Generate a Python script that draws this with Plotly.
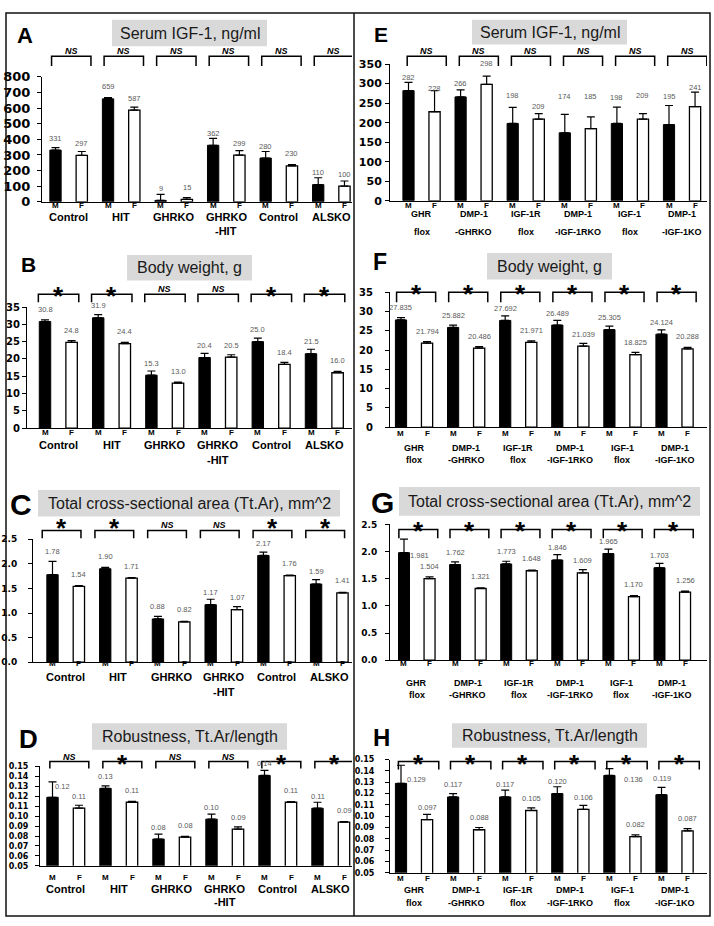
import plotly.graph_objects as go

W, H = 714, 926
FONT = "Liberation Sans, Arial, sans-serif"
TICKFONT = "DejaVu Sans, sans-serif"

# ---------------- data ----------------
LEFT_GROUPS = [["Control"], ["HIT"], ["GHRKO"], ["GHRKO", "-HIT"], ["Control"], ["ALSKO"]]
RIGHT_GROUPS = [["GHR", "flox"], ["DMP-1", "-GHRKO"], ["IGF-1R", "flox"],
                ["DMP-1", "-IGF-1RKO"], ["IGF-1", "flox"], ["DMP-1", "-IGF-1KO"]]
SEX = ["M", "F"]

A_M = [331, 659, 9, 362, 280, 110]
A_F = [297, 587, 15, 299, 230, 100]
A_M_ERR = [16, 8, 39, 44, 42, 44]
A_F_ERR = [25, 19, 12, 29, 8, 33]
A_SIG = ["NS", "NS", "NS", "NS", "NS", "NS"]

B_M = [30.8, 31.9, 15.3, 20.4, 25.0, 21.5]
B_F = [24.8, 24.4, 13.0, 20.5, 18.4, 16.0]
B_M_ERR = [0.5, 0.9, 1.2, 1.2, 1.0, 1.3]
B_F_ERR = [0.5, 0.4, 0.3, 0.7, 0.6, 0.4]
B_SIG = ["*", "*", "NS", "NS", "*", "*"]

C_M = [1.78, 1.90, 0.88, 1.17, 2.17, 1.59]
C_F = [1.54, 1.71, 0.82, 1.07, 1.76, 1.41]
C_M_ERR = [0.27, 0.03, 0.05, 0.11, 0.07, 0.09]
C_F_ERR = [0.02, 0.01, 0.01, 0.06, 0.01, 0.01]
C_SIG = ["*", "*", "NS", "NS", "*", "*"]

D_M = [0.119, 0.128, 0.077, 0.097, 0.141, 0.108]
D_F = [0.108, 0.114, 0.079, 0.087, 0.114, 0.094]
D_M_ERR = [0.0155, 0.0024, 0.005, 0.005, 0.005, 0.006]
D_F_ERR = [0.003, 0.001, 0.0007, 0.0023, 0.0006, 0.0005]
D_SIG = ["NS", "*", "NS", "NS", "*", "*"]

E_M = [282, 266, 198, 174, 198, 195]
E_F = [228, 298, 209, 185, 209, 241]
E_M_ERR = [21, 18, 41, 47, 42, 49]
E_F_ERR = [54, 21, 14, 30, 14, 37]
E_SIG = ["NS", "NS", "NS", "NS", "NS", "NS"]

F_M = [27.835, 25.882, 27.692, 26.489, 25.305, 24.124]
F_F = [21.794, 20.486, 21.971, 21.039, 18.825, 20.288]
F_M_ERR = [0.6, 0.6, 1.2, 1.2, 0.9, 1.1]
F_F_ERR = [0.4, 0.4, 0.4, 0.7, 0.6, 0.4]
F_SIG = ["*", "*", "*", "*", "*", "*"]

G_M = [1.981, 1.762, 1.773, 1.846, 1.965, 1.703]
G_F = [1.504, 1.321, 1.648, 1.609, 1.170, 1.256]
G_M_ERR = [0.25, 0.05, 0.05, 0.10, 0.08, 0.08]
G_F_ERR = [0.03, 0.01, 0.01, 0.06, 0.02, 0.015]
G_SIG = ["*", "*", "*", "*", "*", "*"]

H_M = [0.129, 0.117, 0.117, 0.120, 0.136, 0.119]
H_F = [0.097, 0.088, 0.105, 0.106, 0.082, 0.087]
H_M_ERR = [0.016, 0.003, 0.006, 0.006, 0.006, 0.0064]
H_F_ERR = [0.0046, 0.002, 0.0023, 0.0035, 0.0014, 0.002]
H_SIG = ["*", "*", "*", "*", "*", "*"]

# ---------------- layout / style spec per panel ----------------
panels = [
    dict(letter="A", title="Serum IGF-1, ng/ml", groups=LEFT_GROUPS, M=A_M, F=A_F, Me=A_M_ERR, Fe=A_F_ERR, sig=A_SIG,
         fmt="{:.0f}", ymin=0, ymax=800, dtick=100, tickformat="d", tick_size=13, standoff=4,
         ax_x=42, right=352, top=71, bottom=198, c0=55.5, slot=26.27,
         letter_xy=(25, 29), letter_size=22, tbox=(112, 267, 13, 40),
         br=(50, 60), brdx=(-0.15, 0.35), star_dy=-6, mf_y=202, cat_y=(213, 228), cat_size=11),
    dict(letter="B", title="Body weight, g", groups=LEFT_GROUPS, M=B_M, F=B_F, Me=B_M_ERR, Fe=B_F_ERR, sig=B_SIG,
         fmt="{:.1f}", ymin=0, ymax=35, dtick=5, tickformat="d", tick_size=10, standoff=0,
         ax_x=27, right=352, top=305, bottom=428, c0=45, slot=26.6,
         letter_xy=(28, 262), letter_size=21, tbox=(127, 252, 252, 278),
         br=(292, 300), brdx=(-0.25, 0.27), star_dy=-6, mf_y=433, cat_y=(445, 460), cat_size=11),
    dict(letter="C", title="Total cross-sectional area (Tt.Ar), mm^2", groups=LEFT_GROUPS, M=C_M, F=C_F, Me=C_M_ERR, Fe=C_F_ERR, sig=C_SIG,
         fmt="{:.2f}", ymin=0, ymax=2.5, dtick=0.5, tickformat=".1f", tick_size=9, standoff=9,
         ax_x=33, right=352, top=541, bottom=666, c0=52.5, slot=26.36,
         letter_xy=(21, 506), letter_size=30, tbox=(38, 340, 491, 518),
         br=(532, 540), brdx=(-0.39, 0.08), star_dy=-10, mf_y=667, cat_y=(681, 696), cat_size=11),
    dict(letter="D", title="Robustness, Tt.Ar/length", groups=LEFT_GROUPS, M=D_M, F=D_F, Me=D_M_ERR, Fe=D_F_ERR, sig=D_SIG,
         fmt="{:.2f}", ymin=0.05, ymax=0.15, dtick=0.01, tickformat=".2f", tick_size=8, standoff=5,
         ax_x=40, right=352, top=772, bottom=873, c0=52.5, slot=26.5,
         letter_xy=(28, 744), letter_size=26, tbox=(92, 287, 728, 755),
         br=(767, 774), brdx=(-0.1, 0.37), star_dy=-6, mf_y=885, cat_y=(897, 910), cat_size=11),
    dict(letter="E", title="Serum IGF-1, ng/ml", groups=RIGHT_GROUPS, M=E_M, F=E_F, Me=E_M_ERR, Fe=E_F_ERR, sig=E_SIG,
         fmt="{:.0f}", ymin=0, ymax=350, dtick=50, tickformat="d", tick_size=11, standoff=1,
         ax_x=390, right=707, top=58, bottom=197, c0=408.5, slot=26.05,
         letter_xy=(381, 28), letter_size=21, tbox=(472, 627, 13, 38),
         br=(50, 60), brdx=(-0.05, 0.45), star_dy=-6, mf_y=202, cat_y=(210, 229), cat_size=9),
    dict(letter="F", title="Body weight, g", groups=RIGHT_GROUPS, M=F_M, F=F_F, Me=F_M_ERR, Fe=F_F_ERR, sig=F_SIG,
         fmt="{:.3f}", ymin=0, ymax=35, dtick=5, tickformat="d", tick_size=10, standoff=10,
         ax_x=390, right=707, top=290, bottom=427, c0=401, slot=26.05,
         letter_xy=(380, 259), letter_size=23, tbox=(487, 612, 250, 277),
         br=(290, 300), brdx=(-0.17, 0.33), star_dy=-6, mf_y=434, cat_y=(448, 460), cat_size=9),
    dict(letter="G", title="Total cross-sectional area (Tt.Ar), mm^2", groups=RIGHT_GROUPS, M=G_M, F=G_F, Me=G_M_ERR, Fe=G_F_ERR, sig=G_SIG,
         fmt="{:.3f}", ymin=0, ymax=2.5, dtick=0.5, tickformat=".1f", tick_size=9, standoff=6,
         ax_x=390, right=707, top=526, bottom=664, c0=404, slot=25.55,
         letter_xy=(382, 504), letter_size=30, tbox=(399, 700, 488, 517),
         br=(531, 540), brdx=(-0.2, 0.32), star_dy=-6, mf_y=667, cat_y=(687, 699), cat_size=9),
    dict(letter="H", title="Robustness, Tt.Ar/length", groups=RIGHT_GROUPS, M=H_M, F=H_F, Me=H_M_ERR, Fe=H_F_ERR, sig=H_SIG,
         fmt="{:.3f}", ymin=0.05, ymax=0.15, dtick=0.01, tickformat=".2f", tick_size=8, standoff=9,
         ax_x=390, right=707, top=765, bottom=880, c0=401, slot=26.05,
         letter_xy=(381, 743), letter_size=24, tbox=(452, 647, 728, 753),
         br=(767, 775), brdx=(-0.1, 0.45), star_dy=-6, mf_y=886, cat_y=(898, 911), cat_size=9),
]

# value-label placement tweaks (pixel shifts), keyed by (panel letter, bar index)
LABEL_SHIFT = {
    ("C", 0): (0, 23),
    ("D", 0): (10, 11),
    ("G", 0): (16, -3),
    ("H", 0): (16, 4),
    ("H", 8): (24, -4),
    ("H", 10): (0, 16),
}
E_LABEL_YSHIFT = [13, 23, 13, 21, 28, 13, 36, 32, 26, 24, 28, 19]


def px(x):
    return x / W


def py(y):
    return 1 - y / H


fig = go.Figure()
shapes = []
annotations = []
axes = {}

# outer frame and divider
shapes.append(dict(type="rect", xref="paper", yref="paper", x0=px(6), x1=px(710), y0=py(924), y1=py(6),
                   line=dict(color="#111", width=1.5), fillcolor="rgba(0,0,0,0)", layer="above"))
shapes.append(dict(type="line", xref="paper", yref="paper", x0=px(354), x1=px(354), y0=py(924), y1=py(6),
                   line=dict(color="#111", width=1.5), layer="above"))

for i, p in enumerate(panels, start=1):
    sfx = "" if i == 1 else str(i)
    xa, ya = "x" + sfx, "y" + sfx
    n = len(p["M"])
    xm = [2 * g for g in range(n)]
    xf = [2 * g + 1 for g in range(n)]
    c_last = p["c0"] + (2 * n - 1) * p["slot"]
    xr = [-(p["c0"] - p["ax_x"]) / p["slot"], (2 * n - 1) + (p["right"] - c_last) / p["slot"]]

    axes["xaxis" + sfx] = dict(domain=[px(p["ax_x"]), px(p["right"])], range=xr, anchor=ya,
                               showline=True, linecolor="black", linewidth=1, showticklabels=False,
                               ticks="", showgrid=False, zeroline=False, fixedrange=True)
    axes["yaxis" + sfx] = dict(domain=[py(p["bottom"]), py(p["top"])], range=[p["ymin"], p["ymax"]],
                               anchor=xa, showline=True, linecolor="black", linewidth=1,
                               ticks="outside", ticklen=4, tickwidth=1, tickcolor="black",
                               tick0=p["ymin"], dtick=p["dtick"], tickformat=p["tickformat"],
                               tickfont=dict(family=TICKFONT, size=p["tick_size"], color="black", weight="bold"),
                               ticklabelstandoff=p["standoff"], showgrid=False, zeroline=False, fixedrange=True)

    fig.add_trace(go.Bar(x=xm, y=p["M"], width=0.43, xaxis=xa, yaxis=ya, showlegend=False,
                         marker=dict(color="black", line=dict(color="black", width=1)),
                         error_y=dict(type="data", symmetric=False, array=p["Me"], arrayminus=[0] * n,
                                      color="black", thickness=1.2, width=4)))
    fig.add_trace(go.Bar(x=xf, y=p["F"], width=0.43, xaxis=xa, yaxis=ya, showlegend=False,
                         marker=dict(color="white", line=dict(color="black", width=1.3)),
                         error_y=dict(type="data", symmetric=False, array=p["Fe"], arrayminus=[0] * n,
                                      color="black", thickness=1.2, width=4)))

    # value labels
    for g in range(n):
        for s, (xx, val) in enumerate([(xm[g], p["M"][g]), (xf[g], p["F"][g])]):
            idx = 2 * g + s
            xs, ys = LABEL_SHIFT.get((p["letter"], idx), (0, 12))
            if p["letter"] == "E":
                ys = E_LABEL_YSHIFT[idx]
            annotations.append(dict(x=xx, y=val, xref=xa, yref=ya, text=p["fmt"].format(val),
                                    showarrow=False, xshift=xs, yshift=ys, yanchor="middle",
                                    font=dict(family=FONT, size=7.5, color="#5a5a5a")))
            annotations.append(dict(x=xx, y=py(p["mf_y"]), xref=xa, yref="paper", text=SEX[s],
                                    showarrow=False, yanchor="middle",
                                    font=dict(family=FONT, size=8, color="black", weight="bold")))
        # category labels
        for li, line in enumerate(p["groups"][g]):
            annotations.append(dict(x=2 * g + 0.5, y=py(p["cat_y"][li]), xref=xa, yref="paper", text=line,
                                    showarrow=False, yanchor="middle",
                                    font=dict(family=FONT, size=p["cat_size"], color="black", weight="bold")))
        # significance brackets
        x1 = xm[g] + p["brdx"][0]
        x2 = xf[g] + p["brdx"][1]
        yt, yb = py(p["br"][0]), py(p["br"][1])
        shapes.append(dict(type="path", xref=xa, yref="paper",
                           path=f"M {x1},{yb} L {x1},{yt} L {x2},{yt} L {x2},{yb}",
                           line=dict(color="black", width=1.5)))
        if p["sig"][g] == "NS":
            annotations.append(dict(x=(x1 + x2) / 2, y=py(p["br"][0] - 5), xref=xa, yref="paper", text="NS",
                                    showarrow=False, yanchor="middle",
                                    font=dict(family=FONT, size=9, color="black", weight="bold", style="italic")))
        else:
            annotations.append(dict(x=(x1 + x2) / 2, y=py(p["br"][0] + p["star_dy"] + 8), xref=xa, yref="paper",
                                    text="*", showarrow=False, yanchor="middle",
                                    font=dict(family=FONT, size=26, color="black", weight="bold")))

    # title box and text
    bx0, bx1, by0, by1 = p["tbox"]
    shapes.append(dict(type="rect", xref="paper", yref="paper", x0=px(bx0), x1=px(bx1), y0=py(by1), y1=py(by0),
                       fillcolor="#d9d9d9", line=dict(width=0), layer="below"))
    annotations.append(dict(x=px((bx0 + bx1) / 2), y=py((by0 + by1) / 2), xref="paper", yref="paper",
                            text=p["title"], showarrow=False, xanchor="center", yanchor="middle",
                            font=dict(family=FONT, size=16, color="#1a1a1a")))
    lx, ly = p["letter_xy"]
    annotations.append(dict(x=px(lx), y=py(ly), xref="paper", yref="paper", text=p["letter"],
                            showarrow=False, xanchor="center", yanchor="middle",
                            font=dict(family=FONT, size=p["letter_size"], color="black", weight="bold")))

fig.update_layout(width=W, height=H, autosize=False, margin=dict(l=0, r=0, t=0, b=0),
                  paper_bgcolor="white", plot_bgcolor="rgba(0,0,0,0)", barmode="overlay",
                  showlegend=False, shapes=shapes, annotations=annotations, **axes)

fig.write_html("out.html", config={"displayModeBar": False},
               post_script="document.body.style.margin='0';document.body.style.padding='0';"
                           "document.body.style.overflow='hidden';")
